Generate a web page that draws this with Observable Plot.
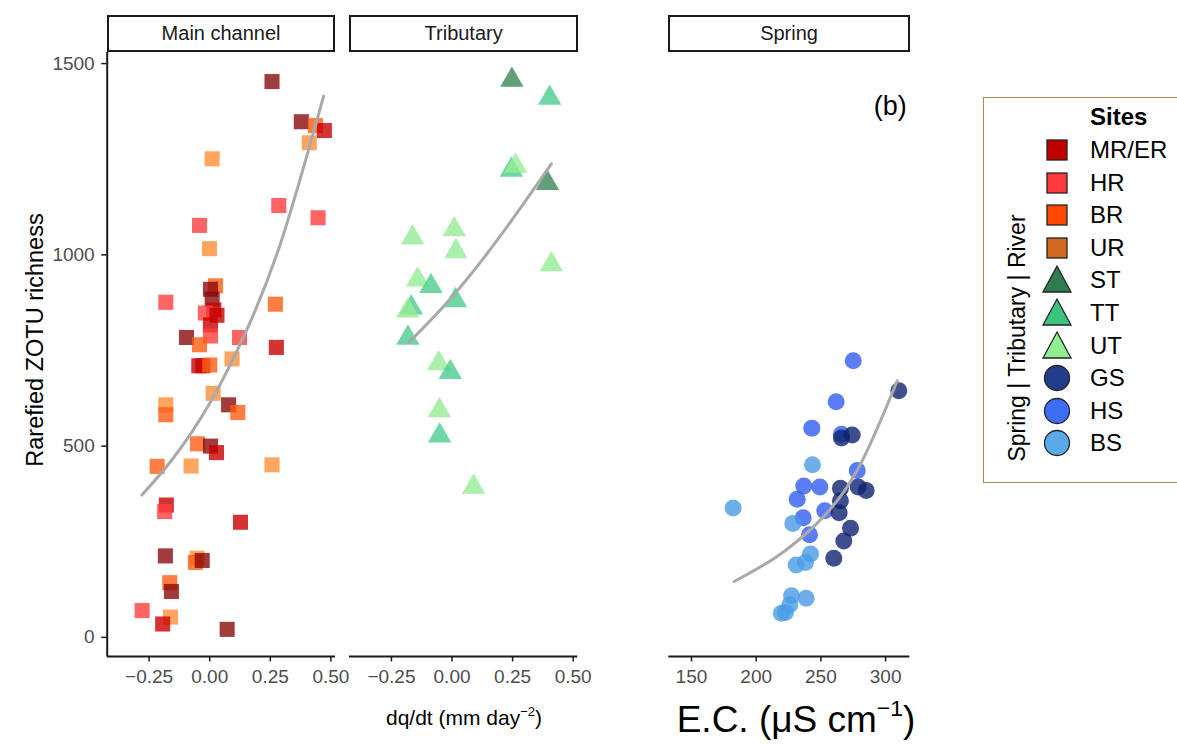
<!DOCTYPE html>
<html>
<head>
<meta charset="utf-8">
<script src="https://cdn.jsdelivr.net/npm/d3@7"></script>
<script src="https://cdn.jsdelivr.net/npm/@observablehq/plot@0.6"></script>
<style>
  body { margin: 0; background: #fff; font-family: "Liberation Sans", Arial, sans-serif; }
  #wrap { position: relative; width: 1177px; height: 748px; overflow: hidden; background: #fff; }
  #wrap svg.layer { position: absolute; left: 0; top: 0; }
  g[aria-label$="tick label"] { fill: #4d4d4d; }
  .strip { position: absolute; box-sizing: border-box; border: 2px solid #1a1a1a; background: #fff;
           font-size: 20px; color: #1a1a1a; display: flex; align-items: center; justify-content: center; }
  .lbl { position: absolute; transform: translate(-50%, -50%); white-space: nowrap; color: #000; }
  .lbl sup { font-size: 0.62em; position: relative; top: -0.1em; }
  #legend { position: absolute; left: 983px; top: 97px; width: 230px; height: 386px; box-sizing: border-box;
            border: 1.5px solid #a8864f; background: #fff; }
  .lrow { position: absolute; font-size: 24px; color: #000; }
</style>
</head>
<body>
<div id="wrap"></div>
<script>
// ---------- data ----------
const panels = ["Main channel", "Tributary"];
const richTicks = [0, 500, 1000, 1500];
const dqTicks = [-0.25, 0, 0.25, 0.5];
const ecTicks = [150, 200, 250, 300];

// Main channel (squares)
const mainSite = ["MR","MR","BR","ER","UR","UR","HR","HR","HR","UR","BR","MR","MR","HR","BR","ER","HR","ER","ER","HR",
  "MR","BR","HR","ER","UR","ER","ER","BR","UR","MR","BR","UR","BR","BR","MR","ER","BR","UR","UR","ER",
  "HR","ER","MR","UR","BR","MR","BR","MR","HR","UR","ER","MR"];
const mainDq = [0.257,0.378,0.436,0.473,0.411,0.010,0.285,0.447,-0.042,-0.001,0.024,0.003,0.010,-0.181,0.271,0.017,-0.018,0.030,0.003,0.003,
  -0.096,-0.042,0.123,0.275,0.092,-0.045,-0.028,0.000,0.014,0.078,0.116,-0.181,-0.181,-0.050,0.003,0.028,-0.217,-0.077,0.257,-0.179,
  -0.186,0.127,-0.183,-0.052,-0.059,-0.031,-0.165,-0.158,-0.279,-0.162,-0.194,0.072];
const mainRich = [1453,1348,1338,1325,1293,1251,1129,1097,1077,1016,919,910,884,876,871,856,848,842,817,788,
  784,765,784,758,728,710,710,712,638,608,588,608,582,506,500,483,447,448,451,346,
  329,301,213,207,196,201,143,120,70,53,35,21];

// Tributary (triangles)
const tribSite = ["ST","TT","TT","UT","ST","UT","UT","UT","UT","UT","TT","TT","TT","UT","TT","UT","TT","UT","TT","UT"];
const tribDq = [0.247,0.403,0.245,0.262,0.394,-0.163,0.009,0.016,0.410,-0.142,-0.087,0.014,-0.168,-0.182,-0.182,-0.055,-0.007,-0.052,-0.051,0.089];
const tribRich = [1457,1410,1222,1232,1187,1045,1066,1009,975,935,918,881,862,854,783,716,693,593,527,393];

// Spring (circles)
const springSite = ["HS","GS","HS","HS","HS","GS","GS","BS","HS","HS","HS","GS","GS","GS","HS","GS","BS","HS","GS","HS",
  "BS","GS","HS","GS","BS","BS","BS","GS","BS","BS","BS","BS","BS"];
const springEC = [275.0,310.2,261.8,243.0,265.9,274.2,265.9,243.5,278.1,236.8,249.2,265.1,278.8,285.0,231.7,265.1,182.2,253.0,264.1,236.3,
  228.3,272.9,241.2,267.7,242.0,238.1,230.9,260.0,227.3,238.6,226.0,222.6,219.5];
const springRich = [723,645,616,547,531,529,521,451,436,396,393,390,393,384,361,357,338,331,326,313,
  298,285,268,252,218,196,189,207,109,102,85,65,63];

// fitted curves
const mainFitX = [-0.28, -0.15, 0, 0.15, 0.30, 0.47];
const mainFitY = [372, 469, 612, 800, 1045, 1415];
const tribFitX = [-0.18, 0, 0.2, 0.41];
const tribFitY = [770, 890, 1050, 1238];
const springFitX = [183, 215, 247, 278, 309];
const springFitY = [146, 209, 298, 436, 671];

// site colours (plot) and legend
const plotSites = ["MR","ER","HR","BR","UR","ST","TT","UT","GS","HS","BS"];
const plotColors = ["#8b0a0a","#c80000","#ff3d3d","#ff5c11","#ff8e37","#378856","#4acd8e","#95ec95","#0f2270","#315cf3","#4a9be6"];
const legendLabels = ["MR/ER","HR","BR","UR","ST","TT","UT","GS","HS","BS"];
const legendColors = ["#c00000","#ff3c3c","#ff4a00","#d2691e","#2e7d50","#3cc47e","#90ee90","#223e88","#3d6cf5","#5aaae8"];
const legendShapes = ["square","square","square","square","triangle","triangle","triangle","circle","circle","circle"];

// ---------- layout ----------
const W = 1177, H = 748;
const panelTop = 52, panelBottom = 656;
const dqDomain = [-0.423, 0.519];
const ecDomain = [132.5, 318.7];
const richDomain = [-50, 1529];
const font = '"Liberation Sans", Arial, sans-serif';
const wrap = document.getElementById("wrap");

const rowsOf = (panel, s, xs, ys) => s.map((d, i) => ({panel, site: d, x: xs[i], y: ys[i]}));
const mainRows = rowsOf("Main channel", mainSite, mainDq, mainRich);
const tribRows = rowsOf("Tributary", tribSite, tribDq, tribRich);
const springRows = rowsOf("Spring", springSite, springEC, springRich);
const fitAB = [
  ...mainFitX.map((x, i) => ({panel: "Main channel", x, y: mainFitY[i]})),
  ...tribFitX.map((x, i) => ({panel: "Tributary", x, y: tribFitY[i]}))
];
const fitC = springFitX.map((x, i) => ({x, y: springFitY[i]}));

const axisStyle = {fontFamily: font, fontSize: "19px", background: "transparent", overflow: "visible"};
const tickFont = 19;

const plotAB = Plot.plot({
  width: W, height: H,
  marginLeft: 106.7, marginRight: W - 577.3, marginTop: panelTop, marginBottom: H - panelBottom,
  style: axisStyle,
  fx: {domain: panels, paddingInner: 14 / 242.3, paddingOuter: 0, round: false, axis: null, label: null},
  x: {domain: dqDomain},
  y: {domain: richDomain},
  color: {domain: plotSites, range: plotColors},
  marks: [
    Plot.dot(mainRows, {x: "x", y: "y", fx: "panel", fill: "site", symbol: "square", r: 8.5, fillOpacity: 0.8}),
    Plot.dot(tribRows, {x: "x", y: "y", fx: "panel", fill: "site", symbol: "triangle", r: 8.7, fillOpacity: 0.8}),
    Plot.line(fitAB, {x: "x", y: "y", fx: "panel", z: "panel", stroke: "#a9a9a9", strokeWidth: 3, curve: "natural"}),
    Plot.ruleY([richDomain[0]], {stroke: "#1a1a1a", strokeWidth: 2}),
    Plot.ruleX([{panel: "Main channel", x: dqDomain[0]}], {x: "x", fx: "panel", stroke: "#1a1a1a", strokeWidth: 2}),
    Plot.axisX({ticks: dqTicks, tickFormat: d3.format(".2f"), tickSize: 5.5, tickPadding: 7, strokeWidth: 1.5, stroke: "#1a1a1a", fontSize: tickFont, label: null}),
    Plot.axisY({ticks: richTicks, tickFormat: d => String(d), tickSize: 5.5, tickPadding: 7, strokeWidth: 1.5, stroke: "#1a1a1a", fontSize: tickFont, label: null})
  ]
});
plotAB.classList.add("layer");
wrap.appendChild(plotAB);

const plotC = Plot.plot({
  width: W, height: H,
  marginLeft: 668.3, marginRight: W - 909.3, marginTop: panelTop, marginBottom: H - panelBottom,
  style: axisStyle,
  x: {domain: ecDomain},
  y: {domain: richDomain, axis: null},
  color: {domain: plotSites, range: plotColors},
  marks: [
    Plot.dot(springRows, {x: "x", y: "y", fill: "site", symbol: "circle", r: 8.5, fillOpacity: 0.8}),
    Plot.line(fitC, {x: "x", y: "y", stroke: "#a9a9a9", strokeWidth: 3, curve: "natural"}),
    Plot.ruleY([richDomain[0]], {stroke: "#1a1a1a", strokeWidth: 2}),
    Plot.axisX({ticks: ecTicks, tickFormat: d => String(d), tickSize: 5.5, tickPadding: 7, strokeWidth: 1.5, stroke: "#1a1a1a", fontSize: tickFont, label: null}),
    Plot.text(["(b)"], {text: d => d, frameAnchor: "top-right", dx: -3, dy: 54, lineAnchor: "middle", fontSize: 27, fill: "#000"})
  ]
});
plotC.classList.add("layer");
wrap.appendChild(plotC);

// ---------- strips ----------
function strip(text, x0, x1) {
  const d = document.createElement("div");
  d.className = "strip";
  d.style.left = x0 + "px"; d.style.width = (x1 - x0) + "px";
  d.style.top = "15px"; d.style.height = "37px";
  d.textContent = text;
  wrap.appendChild(d);
}
strip("Main channel", 106.7, 335.5);
strip("Tributary", 349.3, 578);
strip("Spring", 668.3, 909.8);

// ---------- axis titles ----------
function label(html, x, y, size, rotate) {
  const d = document.createElement("div");
  d.className = "lbl";
  d.style.left = x + "px"; d.style.top = y + "px"; d.style.fontSize = size + "px";
  if (rotate) d.style.transform = "translate(-50%, -50%) rotate(-90deg)";
  d.innerHTML = html;
  wrap.appendChild(d);
}
label("dq/dt (mm day<sup>−2</sup>)", 464, 717, 21);
label("E.C. (μS cm<sup>−1</sup>)", 796, 719, 37);
label("Rarefied ZOTU richness", 35, 340, 23.5, true);

// ---------- legend ----------
const leg = document.createElement("div");
leg.id = "legend";
wrap.appendChild(leg);
function addAbs(el, x, y) { el.style.position = "absolute"; el.style.left = x + "px"; el.style.top = y + "px"; wrap.appendChild(el); }
const title = document.createElement("div");
title.className = "lrow"; title.style.fontWeight = "bold"; title.textContent = "Sites";
addAbs(title, 1090, 117 - 14);
const vt = document.createElement("div");
vt.className = "lbl"; vt.style.fontSize = "23px";
vt.style.transform = "translate(-50%, -50%) rotate(-90deg)";
vt.textContent = "Spring | Tributary | River";
vt.style.left = "1017px"; vt.style.top = "338px";
wrap.appendChild(vt);
const ns = "http://www.w3.org/2000/svg";
legendLabels.forEach((lab, i) => {
  const cy = 150 + i * 32.6;
  const svg = document.createElementNS(ns, "svg");
  svg.setAttribute("width", 34); svg.setAttribute("height", 34);
  let sh;
  if (legendShapes[i] === "square") {
    sh = document.createElementNS(ns, "rect");
    sh.setAttribute("x", 7); sh.setAttribute("y", 7); sh.setAttribute("width", 20); sh.setAttribute("height", 20);
  } else if (legendShapes[i] === "triangle") {
    sh = document.createElementNS(ns, "polygon");
    sh.setAttribute("points", "17,3 31,29 3,29");
  } else {
    sh = document.createElementNS(ns, "circle");
    sh.setAttribute("cx", 17); sh.setAttribute("cy", 17); sh.setAttribute("r", 12.5);
  }
  sh.setAttribute("fill", legendColors[i]); sh.setAttribute("stroke", "#222"); sh.setAttribute("stroke-width", 1.3);
  svg.appendChild(sh);
  addAbs(svg, 1057 - 17, cy - 17);
  const t = document.createElement("div");
  t.className = "lrow"; t.textContent = lab;
  addAbs(t, 1090, cy - 14);
});
</script>
</body>
</html>
